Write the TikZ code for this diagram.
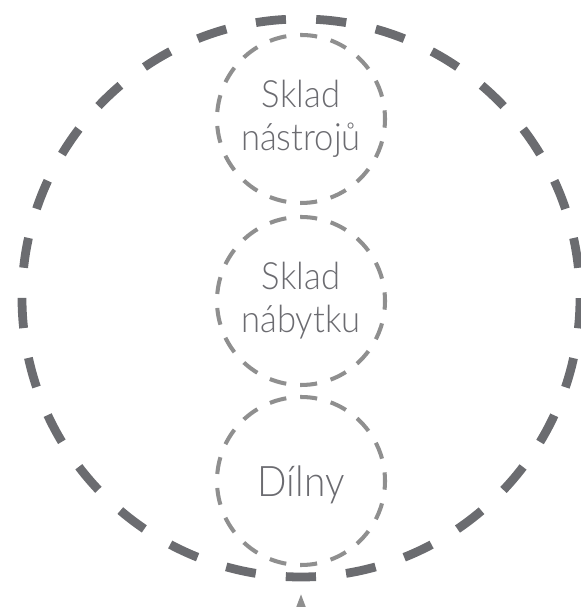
\documentclass[tikz,border=0pt]{standalone}
\usepackage{fontspec}
\setmainfont{Lato Light}[FakeStretch=0.92]
\usepackage{tikz}
\usetikzlibrary{arrows.meta, positioning}
\definecolor{Slate}{HTML}{6B6C70}
\definecolor{Ash}{HTML}{8F8F8F}
\definecolor{Ink}{HTML}{6B6B70}

\tikzset{
  site/.style={circle, draw=Slate, line width=2.5pt, minimum size=5.58cm,
    dash pattern=on 8.6pt off 8.6pt, dash phase=8.6pt},
  room/.style={circle, draw=Ash, line width=1.15pt, minimum size=1.68cm,
    dash pattern=on 4.85pt off 3.98pt, dash phase=2.4pt,
    text=Ink, align=center, inner sep=0pt,
    font=\fontsize{10.7}{12.3}\selectfont},
}

\begin{document}
\begin{tikzpicture}[>=Stealth]
  \useasboundingbox (0,0) rectangle (5.81,6.07);
  \node[site] (site) at (3.01, 3.09) {};
  \node[room] (tools) at (3.01, 4.88) {Sklad\\nástrojů};
  \node[room] (furniture) at (3.01, 3.06) {Sklad\\nábytku};
  \node[room, text depth=0pt, font=\fontsize{12}{14}\selectfont] (shops) at (3.01, 1.26) {Dílny};
  \coordinate (entry) at (3.01, -0.4);
  \draw[->, Ash, line width=0.8pt, shorten >=0.13cm] (entry) -- (site.south);
\end{tikzpicture}
\end{document}
